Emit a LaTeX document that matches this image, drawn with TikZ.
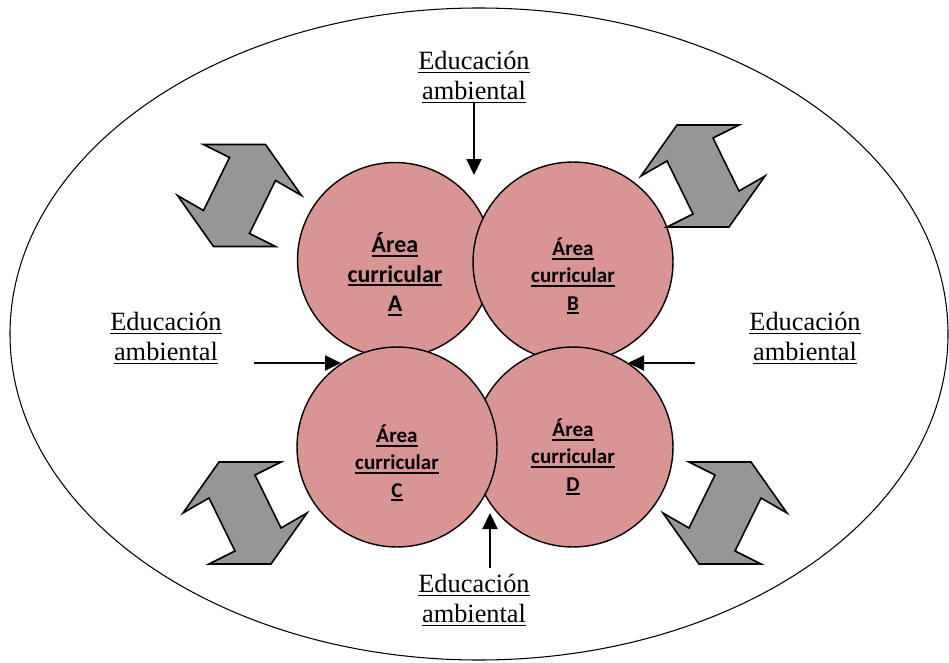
\documentclass[tikz,border=0pt]{standalone}
\usepackage{fontspec}
\setmainfont{Liberation Serif}
\newfontfamily\carlito{Carlito}
\usetikzlibrary{arrows.meta}
\definecolor{areapink}{HTML}{D99594}
\definecolor{arrowgray}{HTML}{969696}
\newcommand{\subr}[1]{\setbox0\hbox{#1}\rlap{\rule[-2.3pt]{\wd0}{1pt}}\box0}
\tikzset{
  swaparrow/.pic={
    \draw[line width=0.9pt, fill=arrowgray, line join=miter]
      (-36,-51) -- (26,-51) -- (62,0) -- (36,-15) -- (10,38) -- (36,51)
      -- (-26,51) -- (-62,0) -- (-36,15) -- (-10,-38) -- cycle;
  }
}
\begin{document}
\begin{tikzpicture}[x=0.02cm, y=-0.02cm]
\tikzstyle{area} = [circle, draw=black, line width=0.8pt, fill=areapink, minimum size=4cm, inner sep=0pt]
\tikzstyle{areatext} = [align=center, font=\carlito\bfseries\fontsize{12}{15.5}\selectfont]
\tikzstyle{edu} = [align=center, font=\fontsize{15}{17}\selectfont, inner sep=0pt]
\tikzstyle{flecha} = [-{Triangle[length=3.2mm, width=3mm]}, line width=1.1pt]
\useasboundingbox (0,0) rectangle (949,662);
\draw[line width=0.6pt] (479,334) ellipse [x radius=469, y radius=326];
% circles
\node (A) [area, minimum size=3.9cm] at (395,260) {};
\node (B) [area] at (573,262) {};
\node (D) [area] at (573,447) {};
\node (C) [area] at (397,447) {};
\node (textA) [areatext, font=\carlito\bfseries\fontsize{13.6}{16.8}\selectfont] at (395,274) {\subr{Área}\\\subr{curricular}\\\subr{A}};
\node (textB) [areatext] at (573,276) {\subr{Área}\\\subr{curricular}\\\subr{B}};
\node (textC) [areatext] at (397,463) {\subr{Área}\\\subr{curricular}\\\subr{C}};
\node (textD) [areatext] at (573,457) {\subr{Área}\\\subr{curricular}\\\subr{D}};
% double arrows
\pic at (239.5,195.5) {swaparrow};
\pic[xscale=-1] at (703,176) {swaparrow};
\pic[xscale=-1] at (245,513) {swaparrow};
\pic at (725,513) {swaparrow};
% labels
\node (eduTop) [edu] at (474,77) {\underline{Educación}\\\underline{ambiental}};
\node (eduLeft) [edu] at (166,338) {\underline{Educación}\\\underline{ambiental}};
\node (eduRight) [edu] at (805,338) {\underline{Educación}\\\underline{ambiental}};
\node (eduBottom) [edu] at (474,600) {\underline{Educación}\\\underline{ambiental}};
\coordinate (topTip) at (474,175);
\coordinate (leftStart) at (254,363);
\coordinate (leftTip) at (341,363);
\coordinate (rightStart) at (695,363);
\coordinate (rightTip) at (628,363);
\coordinate (bottomStart) at (490,568);
\coordinate (bottomTip) at (490,513);
\draw [flecha] (eduTop.south) -- (topTip);
\draw [flecha] (leftStart) -- (leftTip);
\draw [flecha] (rightStart) -- (rightTip);
\draw [flecha] (bottomStart) -- (bottomTip);
\end{tikzpicture}
\end{document}
